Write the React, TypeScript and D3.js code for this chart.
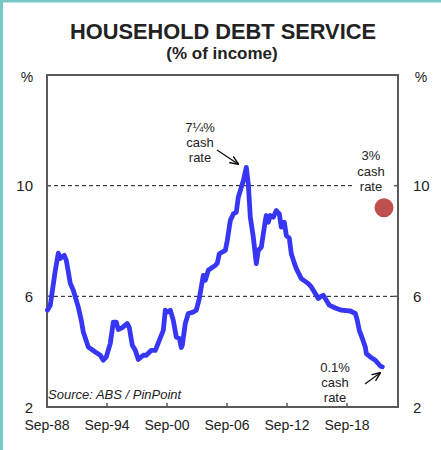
import React from "react";
import * as d3 from "d3";

// Household debt service (% of income), decimal year vs value
const years: number[] = [
  1988.7, 1989.0, 1989.5, 1989.8, 1990.0, 1990.4, 1990.6, 1991.0, 1991.3, 1991.8,
  1992.1, 1992.3, 1992.8, 1993.5, 1994.0, 1994.3, 1994.6, 1995.0, 1995.3, 1995.6,
  1995.8, 1996.2, 1996.7, 1996.9, 1997.2, 1997.5, 1997.8, 1998.3, 1998.6, 1999.1,
  1999.5, 1999.9, 2000.3, 2000.5, 2000.7, 2001.0, 2001.3, 2001.6, 2001.9, 2002.1,
  2002.2, 2002.5, 2002.8, 2003.3, 2003.6, 2003.9, 2004.1, 2004.3, 2004.5, 2004.8,
  2005.5, 2005.7, 2005.9, 2006.5, 2006.7, 2007.0, 2007.3, 2007.6, 2007.8, 2008.0,
  2008.3, 2008.6, 2008.8, 2009.0, 2009.3, 2009.6, 2009.8, 2010.1, 2010.5, 2010.6,
  2010.8, 2011.0, 2011.3, 2011.6, 2011.9, 2012.1, 2012.4, 2012.6, 2012.9, 2013.1,
  2013.4, 2013.6, 2014.1, 2014.8, 2015.1, 2015.5, 2015.8, 2016.0, 2016.3, 2016.6,
  2016.9, 2017.5, 2018.1, 2019.0, 2019.5, 2019.7, 2019.9, 2020.2, 2020.5, 2020.6,
  2021.0, 2021.5, 2022.0, 2022.2,
];
const debtService: number[] = [
  5.5, 5.68, 6.94, 7.56, 7.37, 7.48, 7.3, 6.47, 6.22, 5.61,
  5.13, 4.71, 4.17, 3.99, 3.87, 3.69, 3.81, 4.3, 5.07, 5.07,
  4.8, 4.87, 5.02, 4.87, 4.23, 4.05, 3.72, 3.87, 3.87, 4.05,
  4.05, 4.41, 4.77, 5.5, 5.43, 5.5, 5.13, 4.53, 4.48, 4.15,
  4.23, 5.02, 5.38, 5.43, 5.5, 5.92, 6.34, 6.76, 6.58, 6.94,
  7.12, 7.2, 7.54, 7.66, 8.02, 8.74, 8.98, 9.04, 9.58, 9.82,
  10.18, 10.66, 10.06, 8.86, 8.14, 7.18, 7.66, 7.78, 8.74, 8.92,
  8.68, 8.92, 8.86, 9.1, 8.98, 8.5, 8.68, 8.2, 8.1, 7.54,
  7.2, 7.0, 6.64, 6.46, 6.34, 6.1, 5.92, 5.98, 6.04, 5.86,
  5.68, 5.58, 5.5, 5.47, 5.38, 5.13, 4.77, 4.48, 4.17, 3.93,
  3.81, 3.69, 3.48, 3.45,
];

// Projection at a 3% cash rate
const projectionYear = 2022.37;
const projectionValue = 9.2;

const xTickYears: number[] = [1988.67, 1994.67, 2000.67, 2006.67, 2012.67, 2018.67];
const xTickLabels: string[] = ["Sep-88", "Sep-94", "Sep-00", "Sep-06", "Sep-12", "Sep-18"];
const yTicks: number[] = [2, 6, 10];
const gridLines: number[] = [6, 10];

const title = "HOUSEHOLD DEBT SERVICE";
const subtitle = "(% of income)";
const source = "Source: ABS / PinPoint";

const W = 441;
const H = 450;
const left = 47;
const right = 398;
const top = 75;
const bottom = 407;

export default function App() {
  const x = d3.scaleLinear().domain([1988.67, 2023.77]).range([left, right]);
  const y = d3.scaleLinear().domain([2, 14]).range([bottom, top]);
  const pts: [number, number][] = years.map((yr, i) => [yr, debtService[i]]);
  const line = d3
    .line<[number, number]>()
    .x((d) => x(d[0]))
    .y((d) => y(d[1]))
    .curve(d3.curveLinear);
  const font = "'Liberation Sans', Arial, sans-serif";
  const textCol = "#222";

  return (
    <svg
      width={W}
      height={H}
      style={{ position: "absolute", left: 0, top: 0, background: "#fff" }}
      fontFamily={font}
    >
      <defs>
        <marker id="arr" viewBox="0 0 10 10" refX="9" refY="5" markerWidth="7" markerHeight="7" orient="auto">
          <path d="M0,1 L10,5 L0,9" fill="none" stroke="#111" strokeWidth="1.6" />
        </marker>
      </defs>
      <rect x={0} y={0} width={W} height={H} fill="#fff" />
      <rect x={0} y={0} width={W} height={2.5} fill="#74c9c4" />
      <rect x={0} y={0} width={3} height={H} fill="#74c9c4" />

      <text x={223} y={39} textAnchor="middle" fontSize={21.8} fontWeight="bold" fill={textCol}>
        {title}
      </text>
      <text x={222} y={59} textAnchor="middle" fontSize={17} fontWeight="bold" fill={textCol}>
        {subtitle}
      </text>
      <text x={27} y={82} textAnchor="middle" fontSize={14} fill={textCol}>%</text>
      <text x={421} y={82} textAnchor="middle" fontSize={14} fill={textCol}>%</text>

      {/* gridlines */}
      {gridLines.map((g) => (
        <line
          key={g}
          x1={left}
          x2={g === 10 ? x(2019.2) : right}
          y1={y(g)}
          y2={y(g)}
          stroke="#111"
          strokeWidth={1}
          strokeDasharray="4,3"
        />
      ))}

      {/* frame */}
      <path
        d={`M${left},${bottom} L${left},${top} L${right},${top} L${right},${bottom} Z`}
        fill="none"
        stroke="#5a5a5a"
        strokeWidth={2}
      />
      {xTickYears.map((t) => (
        <line key={t} x1={x(t)} x2={x(t)} y1={bottom} y2={bottom - 4} stroke="#5a5a5a" strokeWidth={1.5} />
      ))}
      {yTicks.map((t) => (
        <g key={t}>
          <line x1={left} x2={left + 4} y1={y(t)} y2={y(t)} stroke="#5a5a5a" strokeWidth={1.5} />
          <line x1={right} x2={right - 4} y1={y(t)} y2={y(t)} stroke="#5a5a5a" strokeWidth={1.5} />
          <text x={33} y={y(t) + 5.5} textAnchor="end" fontSize={15} fill={textCol}>{t}</text>
          <text x={413} y={y(t) + 5.5} textAnchor="start" fontSize={15} fill={textCol}>{t}</text>
        </g>
      ))}
      {xTickYears.map((t, i) => (
        <text key={t} x={x(t)} y={430} textAnchor="middle" fontSize={14} fill={textCol}>
          {xTickLabels[i]}
        </text>
      ))}

      {/* series */}
      <path d={line(pts) || ""} fill="none" stroke="#3636f4" strokeWidth={4.8} strokeLinejoin="round" strokeLinecap="round" />

      {/* projection dot */}
      <circle cx={x(projectionYear)} cy={y(projectionValue)} r={9.5} fill="#c0504d" />

      {/* annotations */}
      <g fontSize={13} fill={textCol} textAnchor="middle">
        <text x={200} y={132}>7¼%</text>
        <text x={200} y={147}>cash</text>
        <text x={200} y={162}>rate</text>
        <text x={371} y={160}>3%</text>
        <text x={371} y={176}>cash</text>
        <text x={371} y={191}>rate</text>
        <text x={335} y={372}>0.1%</text>
        <text x={335} y={387}>cash</text>
        <text x={335} y={402}>rate</text>
      </g>
      <line x1={217} y1={150} x2={238} y2={164} stroke="#111" strokeWidth={1.3} markerEnd="url(#arr)" />
      <line x1={365} y1={384} x2={380} y2={373} stroke="#111" strokeWidth={1.3} markerEnd="url(#arr)" />

      <text x={48} y={399} fontSize={13} fontStyle="italic" fill={textCol}>{source}</text>
    </svg>
  );
}
